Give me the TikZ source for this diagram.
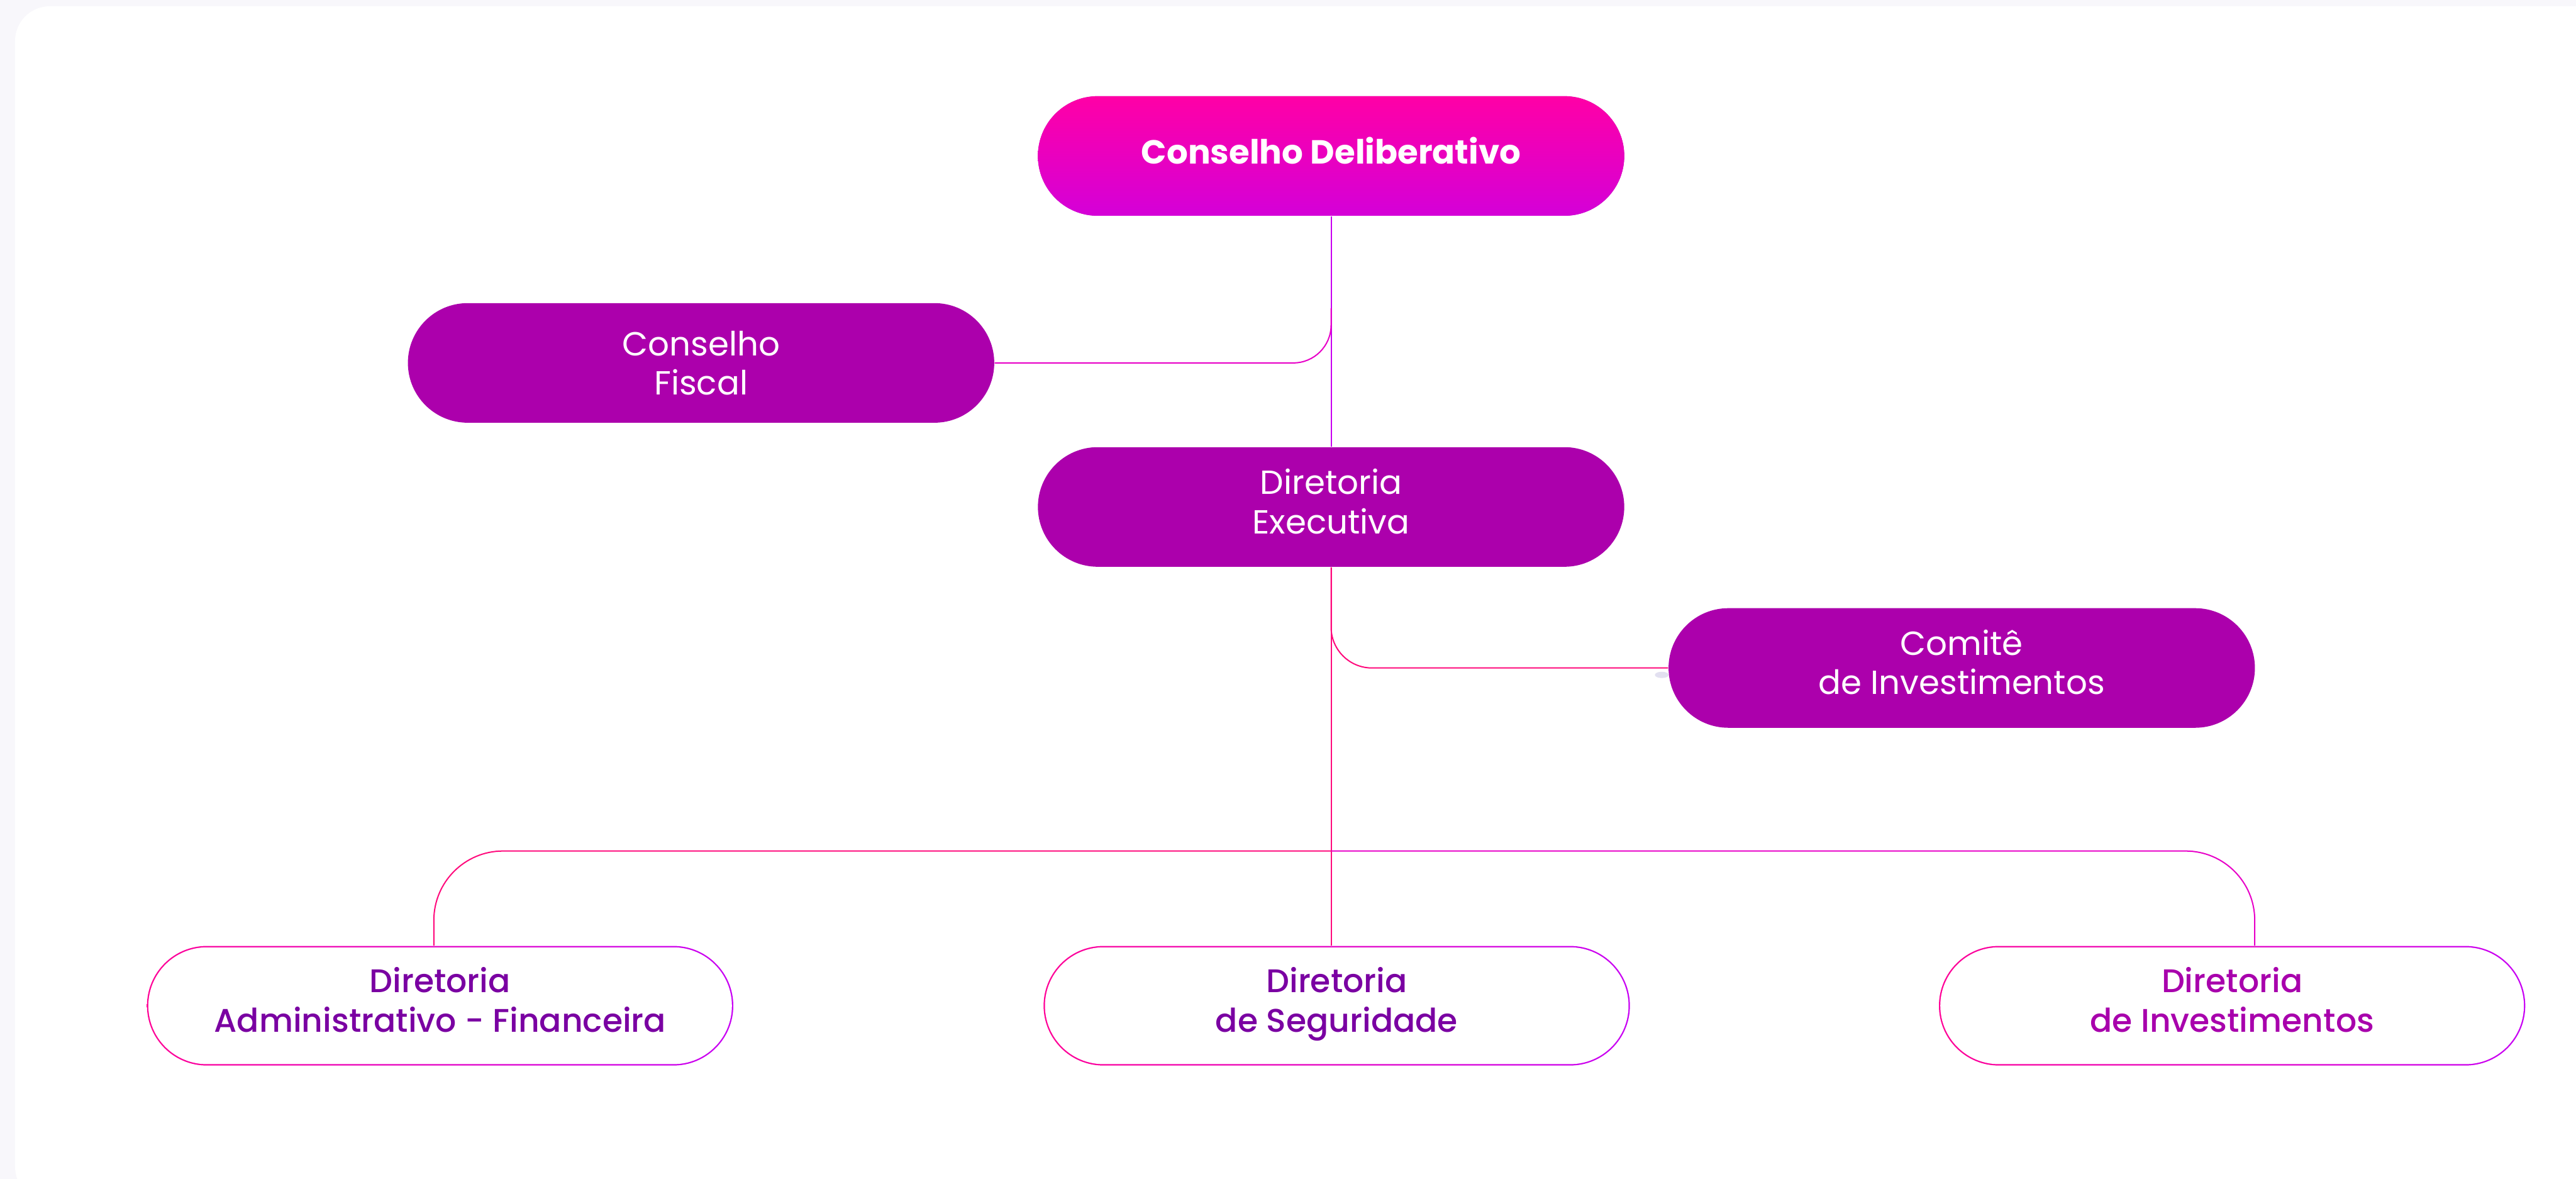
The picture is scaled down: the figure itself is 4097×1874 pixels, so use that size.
\documentclass[tikz,border=0pt]{standalone}
\usepackage{fontspec}
\setmainfont{Poppins}
\newfontfamily\popbold{Poppins Bold}
\newfontfamily\popmed{Poppins Medium}
\usetikzlibrary{calc}

\definecolor{pagebg}{HTML}{F8F7FB}
\definecolor{cdtop}{HTML}{FF00A6}
\definecolor{cdbot}{HTML}{D400D8}
\definecolor{boxfill}{HTML}{AC00AC}
\definecolor{linepk}{HTML}{FF0A7C}
\definecolor{linemg}{HTML}{E800C8}
\definecolor{linepu}{HTML}{C800F0}
\definecolor{strokepk}{HTML}{FF0096}
\definecolor{strokepu}{HTML}{C800F4}
\definecolor{txtviolet}{HTML}{7A00A2}
\definecolor{txtmag}{HTML}{A800AC}
\definecolor{dotgrey}{HTML}{E2E0F0}

\newcommand{\orgfont}{\fontsize{15.1}{17.9}\selectfont}
\newcommand{\orgfontmed}{\fontsize{14.8}{17.9}\selectfont\popmed}

\tikzset{
  pill/.style={rectangle, rounded corners=0.95cm, minimum width=9.32cm,
    minimum height=1.9cm, inner sep=0pt, align=center, font=\orgfont,
    execute at begin node=\strut, execute at end node=\strut},
  fullbox/.style={pill, fill=boxfill, text=white},
  outlbox/.style={pill, font=\orgfontmed, left color=strokepk, middle color=strokepk,
    right color=strokepu,
    path picture={\fill[white, rounded corners=0.93cm]
      ([shift={(0.022cm,0.022cm)}]path picture bounding box.south west)
      rectangle ([shift={(-0.022cm,-0.022cm)}]path picture bounding box.north east);}},
  conn/.style={line width=0.02cm}
}

\begin{document}
\begin{tikzpicture}[x=0.01cm,y=-0.01cm]
  \useasboundingbox (0,0) rectangle (4097,1874);
  \begin{scope}
    \clip (0,0) rectangle (4097,1874);
    \fill[pagebg] (0,0) rectangle (4097,1874);
    \fill[white, rounded corners=0.55cm] (24,10) rectangle (4150,1910);
  \end{scope}
  \fill[dotgrey] (2643,1073) ellipse [x radius=11, y radius=5];

  % boxes
  \node[fullbox, top color=cdtop, bottom color=cdbot, font=\orgfont\popbold] (cd) at (2117,248) {Conselho Deliberativo};
  \node[fullbox, text depth=0pt] (cf) at (1115,577) {Conselho\\Fiscal};
  \node[fullbox] (de) at (2117,806) {Diretoria\\Executiva};
  \node[fullbox] (ci) at (3120,1062) {Comitê\\de Investimentos};
  \node[outlbox, text=txtviolet] (da) at (700,1599) {Diretoria\\Administrativo - Financeira};
  \node[outlbox, text=txtviolet] (ds) at (2126,1599) {Diretoria\\de Seguridade};
  \node[outlbox, text=txtmag] (di) at (3550,1599) {Diretoria\\de Investimentos};
  \coordinate (bus) at (2117,1353);

  % lines
  \draw[conn, linepu] (cd.south) -- (de.north);
  \draw[conn, linemg, rounded corners=0.6cm] (cf.east) -| ($(cd.south)!.4!(de.north)$);
  \draw[conn, linepk, rounded corners=0.65cm] (de.south) |- (ci.west);
  \draw[conn, linepk] (de.south) -- (de.south |- ds.north);
  \draw[conn, linepk, rounded corners=1.1cm] ($(da.north)+(-10,0)$) |- (bus);
  \draw[conn, linemg, rounded corners=1.1cm] (bus) -| ($(di.north)+(36,0)$);
\end{tikzpicture}
\end{document}
